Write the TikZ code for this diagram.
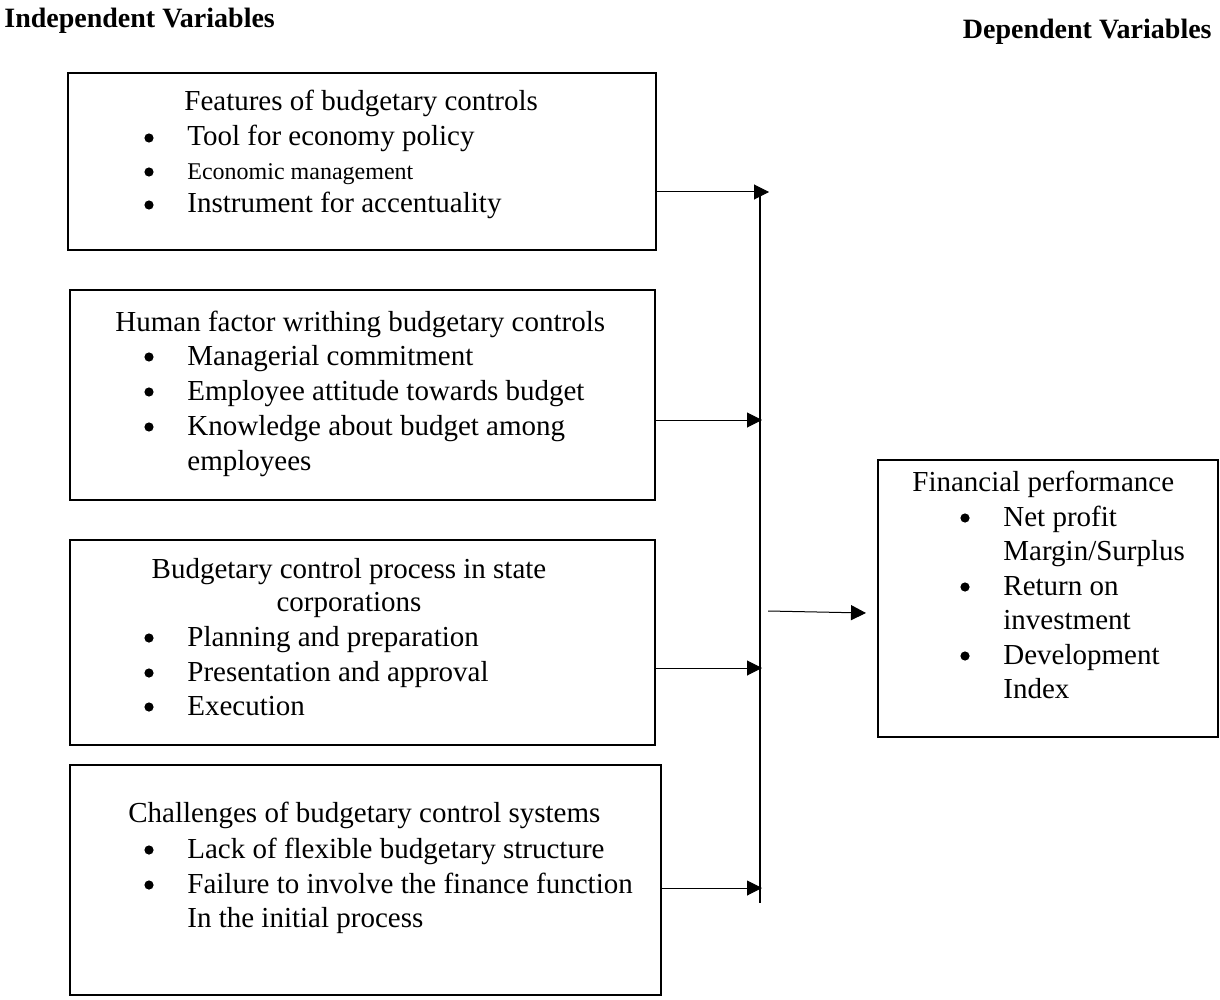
\documentclass[tikz,border=0pt]{standalone}
\usepackage{fontspec}
\setmainfont{Liberation Serif}
\usetikzlibrary{arrows.meta,fit}
\begin{document}
\begin{tikzpicture}[x=0.5pt,y=-0.5pt,
  box/.style={draw, line width=1pt, inner sep=0pt},
  txt/.style={anchor=base west, inner sep=0pt, font=\fontsize{14.5}{17}\selectfont},
  smalltxt/.style={anchor=base west, inner sep=0pt, font=\fontsize{12}{14}\selectfont},
  ctrtxt/.style={anchor=base, inner sep=0pt, font=\fontsize{14.5}{17}\selectfont},
  headtxt/.style={inner sep=0pt, font=\fontsize{14}{17}\selectfont\bfseries},
  bul/.style={circle, fill, inner sep=0pt, minimum size=4.6pt},
  arr/.style={line width=0.5pt, -{Triangle[length=7.5pt,width=7.5pt]}},
  bus/.style={line width=0.6pt}]
\useasboundingbox (0,0) rectangle (1220,1000);

% column headings
\node[headtxt, anchor=base west] (hind) at (4,28) {Independent Variables};
\node[headtxt, anchor=base east] (hdep) at (1212,39) {Dependent Variables};

% boxes
\node[box, fit={(68,73) (656,250)}] (b1) {};
\node[box, fit={(70,290) (655,500)}] (b2) {};
\node[box, fit={(70,540) (655,745)}] (b3) {};
\node[box, fit={(70,765) (661,995)}] (b4) {};
\node[box, fit={(878,460) (1218,737)}] (fin) {};

% box 1
\node[txt] (t10) at (184,111) {Features of budgetary controls};
\node[bul] (u11) at (149,138) {};
\node[txt] (t11) at (187,146) {Tool for economy policy};
\node[bul] (u12) at (149,172) {};
\node[smalltxt] (t12) at (187,180) {Economic management};
\node[bul] (u13) at (149,205) {};
\node[txt] (t13) at (187,213) {Instrument for accentuality};

% box 2
\node[txt] (t20) at (115,331) {Human factor writhing budgetary controls};
\node[bul] (u21) at (149,357) {};
\node[txt] (t21) at (187,365) {Managerial commitment};
\node[bul] (u22) at (149,392) {};
\node[txt] (t22) at (187,400) {Employee attitude towards budget};
\node[bul] (u23) at (149,427) {};
\node[txt] (t23) at (187,435) {Knowledge about budget among};
\node[txt] (t24) at (187,470) {employees};

% box 3
\node[ctrtxt] (t30) at (349,578) {Budgetary control process in state};
\node[ctrtxt] (t31) at (349,611) {corporations};
\node[bul] (u32) at (149,638) {};
\node[txt] (t32) at (187,646) {Planning and preparation};
\node[bul] (u33) at (149,673) {};
\node[txt] (t33) at (187,681) {Presentation and approval};
\node[bul] (u34) at (149,707) {};
\node[txt] (t34) at (187,715) {Execution};

% box 4
\node[txt] (t40) at (128,822) {Challenges of budgetary control systems};
\node[bul] (u41) at (149,850) {};
\node[txt] (t41) at (187,858) {Lack of flexible budgetary structure};
\node[bul] (u42) at (149,885) {};
\node[txt] (t42) at (187,893) {Failure to involve the finance function};
\node[txt] (t43) at (187,927) {In the initial process};

% outcome box
\node[txt] (t50) at (912,491) {Financial performance};
\node[bul] (u51) at (965,518) {};
\node[txt] (t51) at (1003,526) {Net profit};
\node[txt] (t52) at (1003,560) {Margin/Surplus};
\node[bul] (u53) at (965,587) {};
\node[txt] (t53) at (1003,595) {Return on};
\node[txt] (t54) at (1003,629) {investment};
\node[bul] (u55) at (965,656) {};
\node[txt] (t55) at (1003,664) {Development};
\node[txt] (t56) at (1003,698) {Index};

% collecting line and arrows
\coordinate (bustop) at (760,192);
\coordinate (busbot) at (760,903);
\coordinate (e1) at (769,192);
\coordinate (e2) at (762,420);
\coordinate (e3) at (762,668);
\coordinate (e4) at (762,888);
\coordinate (fs) at (768,611);
\coordinate (fe) at (866,613);

\draw[bus] (bustop) -- (busbot);
\draw[arr] (b1.east |- e1) -- (e1);
\draw[arr] (b2.east |- e2) -- (e2);
\draw[arr] (b3.east |- e3) -- (e3);
\draw[arr] (b4.east |- e4) -- (e4);
\draw[arr] (fs) -- (fe);
\end{tikzpicture}
\end{document}
